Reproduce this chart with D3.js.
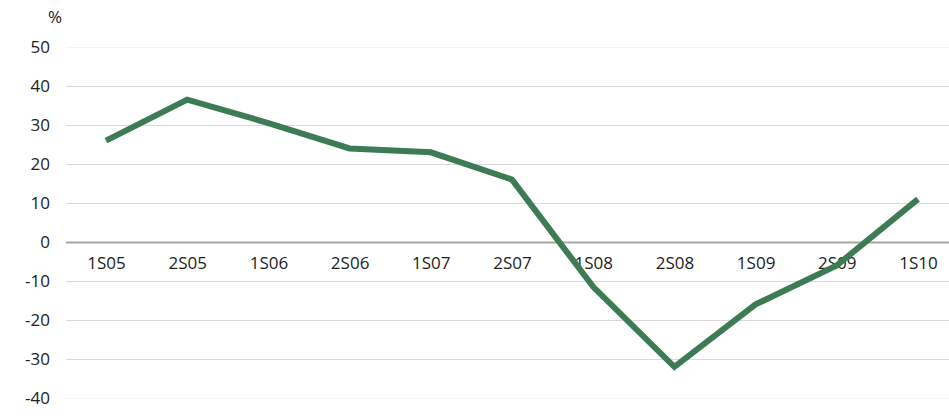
<!DOCTYPE html>
<html>
<head>
<meta charset="utf-8">
<script src="https://cdn.jsdelivr.net/npm/d3@7"></script>
<style>
  body { margin: 0; background: #fff; }
  svg text { font-family: "Open Sans", "Noto Sans", sans-serif; fill: #222; }
</style>
</head>
<body>
<script>
// Data
var periods = ["1S05", "2S05", "1S06", "2S06", "1S07", "2S07", "1S08", "2S08", "1S09", "2S09", "1S10"];
var growth = [26, 36.5, 30.5, 24, 23, 16, -11.5, -32, -16, -6, 11];
var yTicks = [50, 40, 30, 20, 10, 0, -10, -20, -30, -40];

var svgWidth = 949;
var svgHeight = 416;

var svg = d3.select("body")
  .append("svg")
  .attr("width", svgWidth)
  .attr("height", svgHeight);

// Scales
var xScale = d3.scalePoint()
  .domain(periods)
  .range([106, 918]);

var yScale = d3.scaleLinear()
  .domain([-40, 50])
  .range([398, 47]);

// Gridlines
svg.append("g")
  .selectAll("line")
  .data(yTicks)
  .enter().append("line")
    .attr("x1", 66)
    .attr("x2", svgWidth)
    .attr("y1", function (d) { return yScale(d) + 0.5; })
    .attr("y2", function (d) { return yScale(d) + 0.5; })
    .attr("stroke", function (d) {
      if (d === 0) return "#a6a6a6";
      if (d === 50 || d === -40) return "#f4f4f4";
      return "#d9d9d9";
    })
    .attr("stroke-width", function (d) { return d === 0 ? 2 : 1; });

// Y axis labels
var leftAxis = d3.axisLeft(yScale)
  .tickValues(yTicks)
  .tickFormat(function (d) { return String(d); })
  .tickSize(0)
  .tickPadding(0);

svg.append("g")
  .attr("transform", "translate(50,0)")
  .call(leftAxis)
  .call(function (g) { g.select(".domain").remove(); })
  .selectAll("text")
    .style("font-size", "17px")
    .style("font-family", "\"Open Sans\", \"Noto Sans\", sans-serif")
    .style("fill", "#222");

// Unit label
svg.append("text")
  .attr("x", 48)
  .attr("y", 23)
  .style("font-size", "17px")
  .text("%");

// Category labels along the zero line
var bottomAxis = d3.axisBottom(xScale)
  .tickSize(0)
  .tickPadding(0);

svg.append("g")
  .attr("transform", "translate(0," + (yScale(0) + 15) + ")")
  .call(bottomAxis)
  .call(function (g) { g.select(".domain").remove(); })
  .selectAll("text")
    .style("font-size", "17px")
    .style("font-family", "\"Open Sans\", \"Noto Sans\", sans-serif")
    .style("fill", "#222");

// Line
var line = d3.line()
  .x(function (d, i) { return xScale(periods[i]); })
  .y(function (d) { return yScale(d); });

svg.append("path")
  .datum(growth)
  .attr("d", line)
  .attr("fill", "none")
  .attr("stroke", "#3d7b55")
  .attr("stroke-width", 6)
  .attr("stroke-linejoin", "miter");
</script>
</body>
</html>
